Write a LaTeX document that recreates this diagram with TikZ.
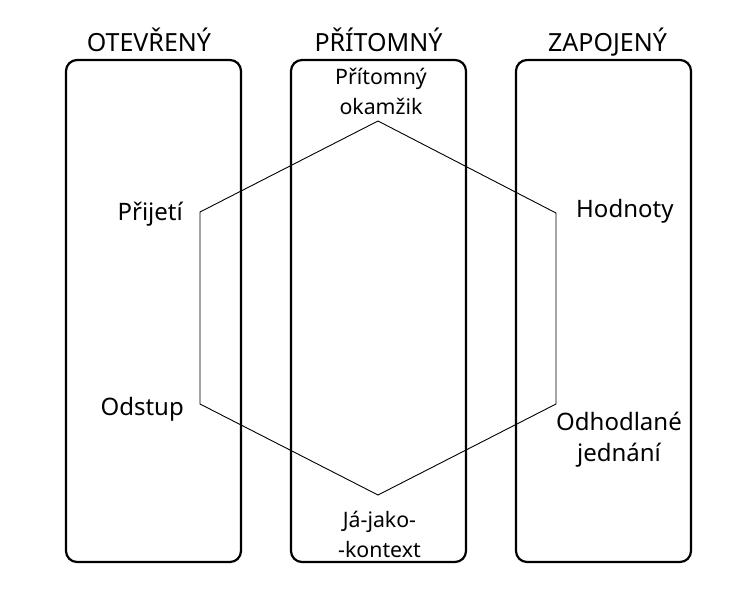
\documentclass[tikz,border=0pt]{standalone}
\usepackage{fontspec}
\setmainfont{Noto Sans}
\begin{document}
\begin{tikzpicture}[x=1pt,y=-1pt,
  colbox/.style={draw=black, line width=2.2pt, rounded corners=11pt, minimum width=175pt, minimum height=502pt, inner sep=0pt},
  ttl/.style={font=\fontsize{25}{30}\selectfont, inner sep=0pt},
  side/.style={font=\fontsize{24}{31.5}\selectfont, inner sep=0pt},
  mid/.style={font=\fontsize{21.3}{30}\selectfont, inner sep=0pt},
  hexline/.style={draw=black, line width=0.9pt, line join=miter}]
\useasboundingbox (0,0) rectangle (733,595);
\fill[white] (0,0) rectangle (733,595);
% column boxes
\node[colbox] (boxA) at (153.5,311) {};
\node[colbox] (boxB) at (378.5,311) {};
\node[colbox] (boxC) at (603.5,311) {};
% titles
\node[ttl, anchor=base] (tA) at (149,51.5) {OTEVŘENÝ};
\node[ttl, anchor=base] (tB) at (378.5,51.5) {PŘÍTOMNÝ};
\node[ttl, anchor=base] (tC) at (607.5,51.5) {ZAPOJENÝ};
% hexagon corners
\coordinate (h1) at (378,121);
\coordinate (h2) at (556,213);
\coordinate (h3) at (556,404);
\coordinate (h4) at (378,495);
\coordinate (h5) at (200,404);
\coordinate (h6) at (200,212);
\draw[hexline] (h1) -- (h2) -- (h3) -- (h4) -- (h5) -- (h6) -- cycle;
% labels
\node[mid, anchor=base] (pm) at (381,84.5) {\begin{tabular}[t]{@{}c@{}}Přítomný\\okamžik\end{tabular}};
\node[mid, anchor=base] (jj) at (379.5,527) {\begin{tabular}[t]{@{}c@{}}Já-jako-\\-kontext\end{tabular}};
\node[side, anchor=base] (oj) at (619,430) {\begin{tabular}[t]{@{}c@{}}Odhodlané\\jednání\end{tabular}};
\node[side, anchor=base east] (pr) at (183,220) {Přijetí};
\node[side, anchor=base east] (od) at (184,415) {Odstup};
\node[side, anchor=base west] (hd) at (576,217) {Hodnoty};
\end{tikzpicture}
\end{document}
